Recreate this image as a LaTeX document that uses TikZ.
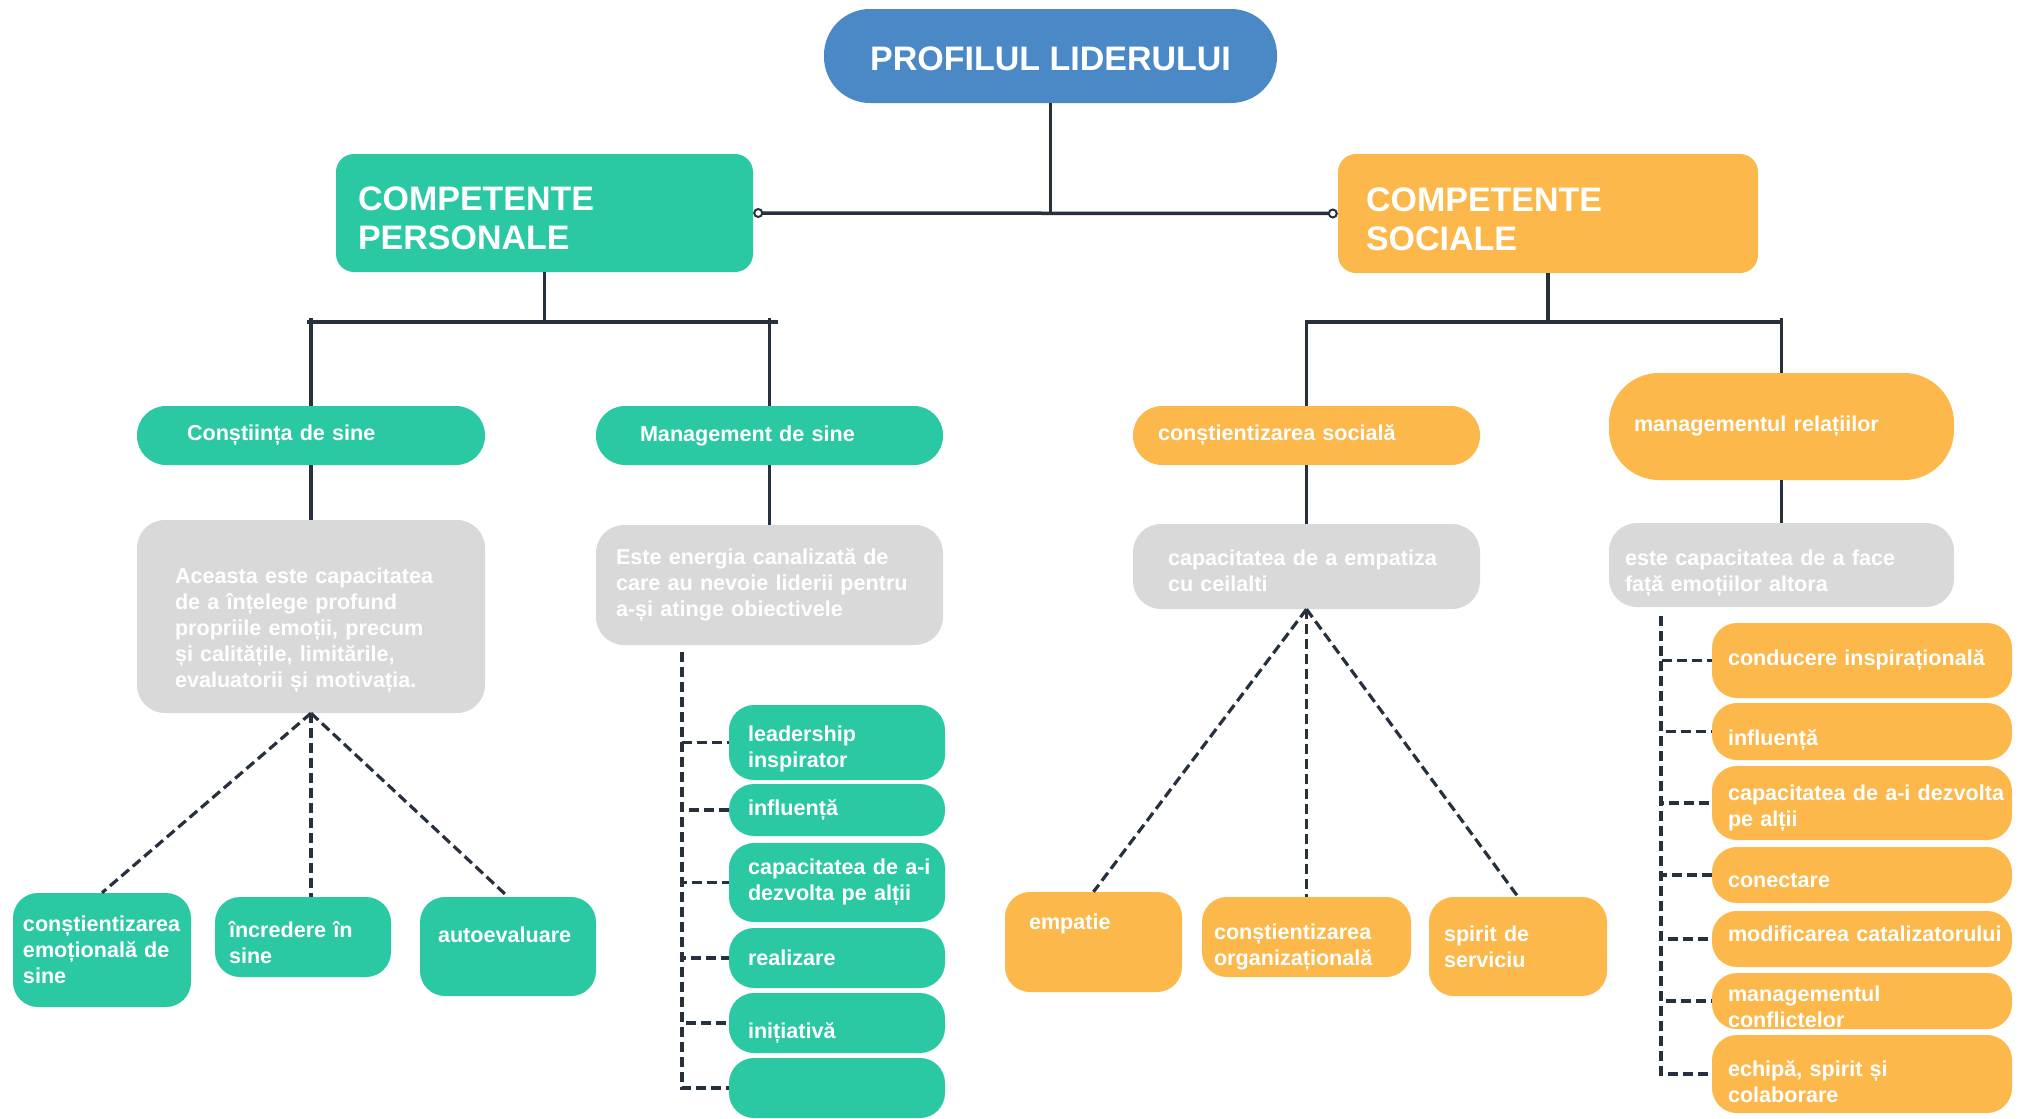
\documentclass[tikz,border=0pt]{standalone}
\usepackage{fontspec}
\setmainfont{Liberation Sans}
\usepackage{tikz}
\usetikzlibrary{arrows.meta}

\definecolor{tealc}{HTML}{2BC8A4}
\definecolor{orangec}{HTML}{FCB84B}
\definecolor{bluec}{HTML}{4A88C6}
\definecolor{greyc}{HTML}{D9D9D9}
\definecolor{linec}{HTML}{27313D}

\newcommand{\nodefont}{\fontsize{21.6}{26}\selectfont\bfseries\hyphenpenalty=10000\exhyphenpenalty=10000}
\newcommand{\headfont}{\fontsize{34}{39}\selectfont\bfseries}

\begin{document}
\begin{tikzpicture}
			[x=1pt,y=-1pt,every node/.style={inner sep=0pt,text=white,font=\nodefont,align=left},
			sz/.style n args={3}{minimum width=#1pt,minimum height=#2pt,text width=#3pt},
			root/.style={fill=bluec,rounded corners=46pt,font=\headfont,align=center},
			head/.style={rounded corners=18pt,font=\headfont,text height=35pt},
			sub/.style={rounded corners=29pt},
			note/.style={fill=greyc,rounded corners=28pt},
			leaf/.style={rounded corners=25pt},
			edge/.style={-,draw=linec,line width=3.5pt},
			dashedge/.style={-,draw=linec,line width=3.2pt,dash pattern=on 10pt off 5pt}]
			\fill[white] (0,0) rectangle (2022,1119);
			\useasboundingbox (0,0) rectangle (2022,1119);

			\node[root,minimum width=453pt,minimum height=94pt,text height=30pt] (root) at (1050.5,56) {PROFILUL LIDERULUI};
			\node[head,fill=tealc,sz={417}{118}{373}] (cp) at (544.5,213) {COMPETENTE\\PERSONALE};
			\node[head,fill=orangec,sz={420}{119}{364}] (cs) at (1548,213.5) {COMPETENTE\\SOCIALE};

			\node[sub,fill=tealc,sz={348}{59}{248}] (cons) at (311,435.5) {Conștiința de sine};
			\node[sub,fill=tealc,sz={347}{59}{259}] (mgmt) at (769.5,435.5) {Management de sine};
			\node[sub,fill=orangec,sz={347}{59}{297}] (csoc) at (1306.5,435.5) {conștientizarea socială};
			\node[sub,fill=orangec,rounded corners=50pt,sz={345}{107}{295}] (mrel) at (1781.5,426.5) {managementul relațiilor};

			\node[note,sz={348}{193}{272},text height=42pt] (g1) at (311,616.5) {Aceasta este capacitatea\\de a înțelege profund\\propriile emoții, precum\\și calitățile, limitările,\\evaluatorii și motivația.};
			\node[note,sz={347}{120}{307}] (g2) at (769.5,585) {Este energia canalizată de\\care au nevoie liderii pentru\\a-și atinge obiectivele};
			\node[note,sz={347}{85}{277},text height=24pt] (g3) at (1306.5,566.5) {capacitatea de a empatiza\\cu ceilalti};
			\node[note,sz={345}{84}{313},text height=32pt] (g4) at (1781.5,565) {este capacitatea de a face\\față emoțiilor altora};

			\node[leaf,fill=tealc,sz={178}{114}{158}] (l1) at (102,950) {conștientizarea\\emoțională de\\sine};
			\node[leaf,fill=tealc,sz={176}{80}{148},text height=28pt] (l2) at (303,937) {încredere în\\sine};
			\node[leaf,fill=tealc,sz={176}{99}{140},text depth=24pt] (l3) at (508,946.5) {autoevaluare};

			\node[leaf,fill=tealc,sz={216}{75}{178},text height=28pt] (m1) at (837,742.5) {leadership\\inspirator};
			\node[leaf,fill=tealc,sz={216}{52}{178}] (m2) at (837,810) {influență};
			\node[leaf,fill=tealc,sz={216}{79}{178}] (m3) at (837,882.5) {capacitatea~de~a-i\\dezvolta pe alții};
			\node[leaf,fill=tealc,sz={216}{60}{178}] (m4) at (837,958) {realizare};
			\node[leaf,fill=tealc,sz={216}{60}{178},text height=36pt] (m5) at (837,1023) {inițiativă};
			\node[leaf,fill=tealc,sz={216}{60}{178}] (m6) at (837,1088) {};

			\node[leaf,fill=orangec,sz={177}{100}{129},text depth=40pt] (s1) at (1093.5,942) {empatie};
			\node[leaf,fill=orangec,sz={209}{80}{185},text height=36pt] (s2) at (1306.5,937) {conștientizarea\\organizațională};
			\node[leaf,fill=orangec,sz={178}{99}{148}] (s3) at (1518,946.5) {spirit de\\serviciu};

			\node[leaf,fill=orangec,sz={300}{75}{268}] (r1) at (1862,660.5) {conducere inspirațională};
			\node[leaf,fill=orangec,sz={300}{57}{268},text height=32pt] (r2) at (1862,731.5) {influență};
			\node[leaf,fill=orangec,sz={300}{74}{268},text height=26pt] (r3) at (1862,803) {capacitatea~de~a-i~dezvolta\\pe alții};
			\node[leaf,fill=orangec,sz={300}{56}{268},text height=26pt] (r4) at (1862,875) {conectare};
			\node[leaf,fill=orangec,sz={300}{56}{268},text depth=10pt] (r5) at (1862,939) {modificarea~catalizatorului};
			\node[leaf,fill=orangec,sz={300}{56}{268},text height=28pt] (r6) at (1862,1001) {managementul\\conflictelor};
			\node[leaf,fill=orangec,sz={300}{78}{268},text height=32pt] (r7) at (1862,1074) {echipă, spirit și\\colaborare};

			\coordinate (barP) at (544.5,322);
			\coordinate (barS) at (1548,322);
			\coordinate (railM) at (682,652);
			\coordinate (railR) at (1661,616);

			\draw[edge] (root.south) -- (root.south |- cp.east);
			\draw[edge,{Circle[open,length=10pt,line width=2pt]}-{Circle[open,length=10pt,line width=2pt]}] (cp.east) -- (cs.west);
			\draw[edge] (cp.south) -- (barP);
			\draw[edge] ([xshift=-4pt]cons.north |- barP) -- ([xshift=8pt]mgmt.north |- barP);
			\draw[edge] (cons.north) -- ([yshift=4pt]cons.north |- barP);
			\draw[edge] (mgmt.north) -- ([yshift=4pt]mgmt.north |- barP);
			\draw[edge] (cs.south) -- (barS);
			\draw[edge] (csoc.north) |- (barS) -| (mrel.north);
			\draw[edge] (mrel.north) -- ([yshift=4pt]mrel.north |- barS);

			\foreach \from/\to in {cons/g1,mgmt/g2,csoc/g3,mrel/g4}
			\draw[edge] (\from.south) to (\to.north);
			\foreach \to in {l1,l3}
			\draw[dashedge] (g1.south) to (\to.north);
			\draw[dashedge] (g1.south) to (g1.south |- l2.north);
			\foreach \to in {s1,s2,s3}
			\draw[dashedge] (g3.south) to (\to.north);
			\foreach \to in {m1,m2,m3,m4,m5,m6}
			\draw[dashedge] (railM) |- (\to.west);
			\foreach \to in {r1,r2,r3,r4,r5,r6,r7}
			\draw[dashedge] (railR) |- (\to.west);

			\end{tikzpicture}
\end{document}
